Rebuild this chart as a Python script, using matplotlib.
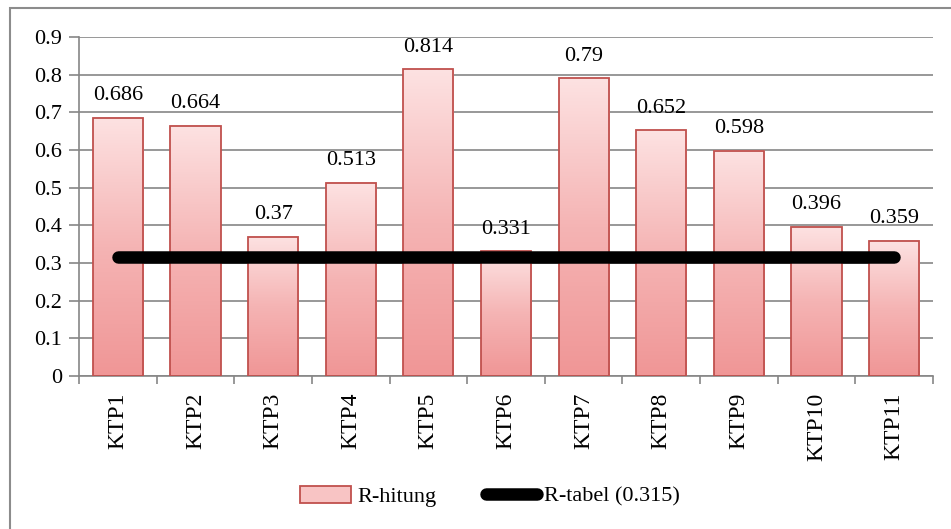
import numpy as np
import matplotlib.pyplot as plt
from matplotlib.colors import LinearSegmentedColormap
from matplotlib.patches import Rectangle, Patch
from matplotlib.lines import Line2D

# item codes and correlation values
items = ['KTP1', 'KTP2', 'KTP3', 'KTP4', 'KTP5', 'KTP6',
         'KTP7', 'KTP8', 'KTP9', 'KTP10', 'KTP11']
r_hitung = [0.686, 0.664, 0.37, 0.513, 0.814, 0.331,
            0.79, 0.652, 0.598, 0.396, 0.359]
r_tabel = 0.315

plt.rcParams['font.family'] = ['Liberation Serif', 'DejaVu Serif']
FS = 16

fig = plt.figure(figsize=(9.51, 5.29), dpi=100)
ax = fig.add_axes([0.0831, 0.2892, 0.981 - 0.0831, 0.930 - 0.2892])

# outer chart frame
fig.patches.append(Rectangle((10 / 951, -0.5), 2.0, 0.5 + 1 - 8 / 529,
                             transform=fig.transFigure, fill=False,
                             edgecolor='#8c8c8c', lw=1.5, zorder=0))

grad = LinearSegmentedColormap.from_list(
    'bar', ['#f09696', '#f5b4b4', '#fde2e2'])
x = np.arange(len(items))
bw = 0.645
ramp = np.linspace(0, 1, 256).reshape(-1, 1)

for xi, v in zip(x, r_hitung):
    ax.imshow(ramp, cmap=grad, origin='lower', aspect='auto',
              extent=[xi - bw / 2, xi + bw / 2, 0, v], zorder=2)
    ax.bar(xi, v, width=bw, facecolor='none', edgecolor='#c0504d',
           lw=1.3, zorder=3)
    ax.annotate(f'{v:g}', (xi, v), xytext=(0, 9), textcoords='offset points',
                ha='center', va='bottom', fontsize=FS)

ax.plot(x, [r_tabel] * len(x), color='black', lw=9,
        solid_capstyle='round', zorder=4)

ax.set_xlim(-0.5, len(items) - 0.5)
ax.set_ylim(0, 0.9)
ax.set_yticks(np.arange(0, 0.91, 0.1))
ax.set_yticklabels(['0'] + [f'{t:.1f}' for t in np.arange(0.1, 0.91, 0.1)],
                   fontsize=FS)
ax.set_xticks(x)
ax.set_xticklabels(items, rotation=90, fontsize=FS + 1)
ax.set_xticks(np.arange(-0.5, len(items)), minor=True)
ax.tick_params(axis='x', which='major', length=0, pad=12)
ax.tick_params(axis='x', which='minor', length=6, color='#868686', width=1.2)
ax.tick_params(axis='y', length=7, color='#868686', width=1.2, pad=5)

ax.grid(axis='y', color='#868686', lw=1.2, zorder=1)
ax.set_axisbelow(True)
for s in ['top', 'right']:
    ax.spines[s].set_visible(False)
for s in ['left', 'bottom']:
    ax.spines[s].set_color('#868686')
    ax.spines[s].set_linewidth(1.2)
ax.patch.set_alpha(0)

handles = [Patch(facecolor='#f8c4c4', edgecolor='#c0504d', lw=1.3),
           Line2D([], [], color='black', lw=9, solid_capstyle='round')]
fig.legend(handles, ['R-hitung', 'R-tabel (0.315)'], loc='center',
           bbox_to_anchor=(0.515, 0.062), ncol=2, frameon=False,
           fontsize=FS, handlelength=2.3, handleheight=0.8,
           handletextpad=0.3, columnspacing=2.2)

fig.savefig('out.png', dpi=100)
